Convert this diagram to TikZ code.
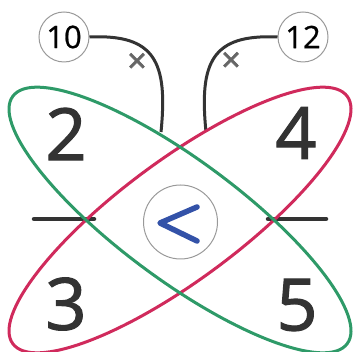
\documentclass[tikz,border=0pt]{standalone}
\usepackage{fontspec}
\setmainfont{Open Sans}
\newfontfamily\numfont{Open Sans}[FakeBold=1.6]
\newfontfamily\smallfont{Open Sans}[FakeBold=0.8]
\definecolor{ink}{HTML}{333333}
\definecolor{ringgray}{HTML}{999999}
\definecolor{elgreen}{HTML}{2E9A68}
\definecolor{elred}{HTML}{D02A5C}
\definecolor{signblue}{HTML}{3352A8}
\begin{document}
\begin{tikzpicture}[x=1pt,y=1pt,
  bignum/.style={text=ink,font=\numfont\fontsize{72}{72}\selectfont,inner sep=0pt},
  smallnum/.style={circle,draw=ringgray,line width=1pt,minimum size=50pt,inner sep=0pt,text=black,font=\smallfont\fontsize{31}{31}\selectfont},
  signring/.style={circle,draw=ringgray,line width=1pt,minimum size=74pt,inner sep=0pt},
  link/.style={draw=ink,line width=3pt},
  times/.style={text=ink!75,font=\numfont\fontsize{34}{34}\selectfont,inner sep=0pt},
  bar/.style={draw=ink,line width=4.5pt,line cap=round},
  loop/.style={line width=3pt}]
\useasboundingbox (0,0) rectangle (352,352);
% small circles
\node[smallnum] (ten) at (64,315) {10};
\node[smallnum] (twelve) at (303,315) {12};
\coordinate (lend) at (161,220);
\coordinate (rend) at (206,220);
\path[link] (ten.east) .. controls (155,318) and (168,290) .. (lend);
\path[link] (twelve.west) .. controls (212,318) and (199,290) .. (rend);
\node[times] (xl) at (137,289) {×};
\node[times] (xr) at (231,290) {×};
% bars
\coordinate (bl1) at (34,133);
\coordinate (bl2) at (94,133);
\coordinate (br1) at (268,133);
\coordinate (br2) at (326,133);
\draw[bar] (bl1) -- (bl2);
\draw[bar] (br1) -- (br2);
% numbers
\node[bignum] (two) at (66,218) {2};
\node[bignum] (four) at (296,219) {4};
\node[bignum] (three) at (66,48) {3};
\node[bignum] (five) at (297,47) {5};
% ellipses
\coordinate (c) at (180,132);
\draw[loop,elred,rotate around={36.5:(c)}] (c) ellipse [x radius=208, y radius=60];
\draw[loop,elgreen,rotate around={-36.5:(c)}] (c) ellipse [x radius=208, y radius=60];
% sign
\node[signring] (ring) at (180.5,130) {};
\coordinate (s1) at (197,145);
\coordinate (s2) at (160,129);
\coordinate (s3) at (197,111);
\draw[signblue,line width=5.5pt,line cap=round,line join=round] (s1) -- (s2) -- (s3);
\end{tikzpicture}
\end{document}
